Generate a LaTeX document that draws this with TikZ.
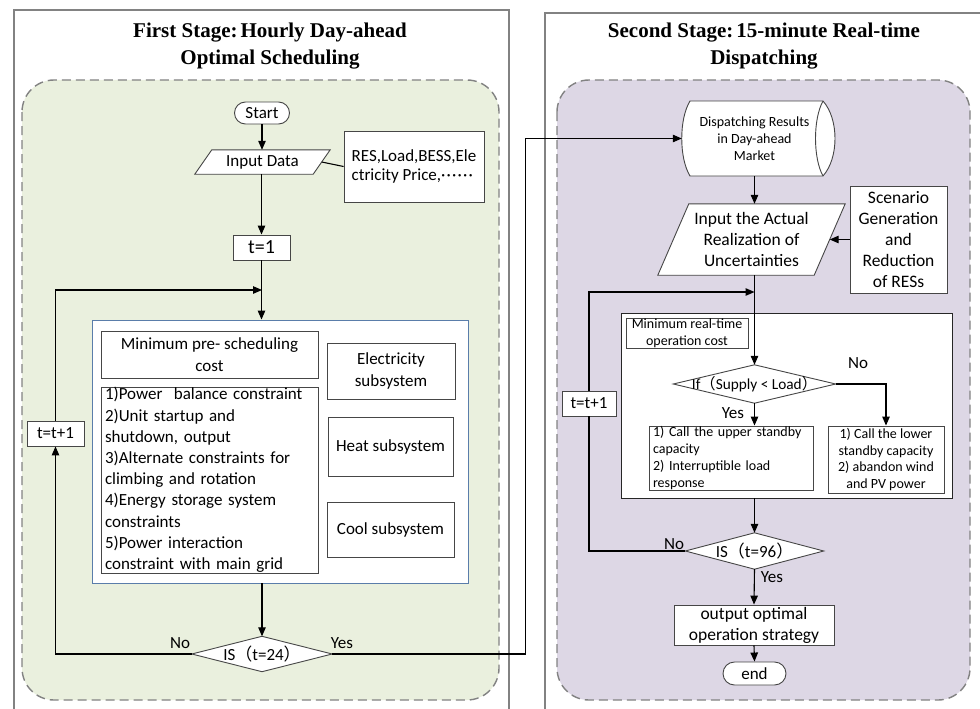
\documentclass[tikz,border=0pt]{standalone}
\usepackage{fontspec}
\setmainfont{Carlito}
\newfontfamily\titlefont{Liberation Serif}
\newfontfamily\cjk{Noto Sans CJK SC}
\usetikzlibrary{arrows.meta,calc}
\pgfdeclarelayer{bg}
\pgfdeclarelayer{boxes}
\pgfdeclarelayer{mid}
\pgfsetlayers{bg,boxes,mid,main}
\definecolor{greenbg}{RGB}{234,240,222}
\definecolor{purplebg}{RGB}{221,215,229}
\definecolor{panelgray}{RGB}{130,130,130}
\definecolor{boxgray}{RGB}{70,70,70}
\definecolor{bluebox}{RGB}{90,125,170}
\newcommand{\mydots}{·\kern1.2pt·\kern1.2pt·\kern1.2pt·\kern1.2pt·\kern1.2pt·}
\begin{document}
\begin{tikzpicture}[x=1pt,y=-1pt,
  body/.style={font=\fontsize{17}{21.5}\selectfont},
  small/.style={font=\fontsize{14}{16.7}\selectfont},
  box/.style={draw=boxgray, fill=white, line width=0.9pt, inner sep=0pt, align=center, body},
  ghost/.style={inner sep=0pt, align=center, body},
  outline/.style={draw=boxgray, fill=white, line width=0.9pt},
  arr/.style={-{Triangle[length=9pt,width=7.5pt]}, line width=1.1pt},
  conn/.style={line width=1.1pt},
  panel/.style={draw=panelgray, line width=1.2pt},
  dashbox/.style={draw=panelgray, line width=1.4pt, dash pattern=on 9pt off 5pt, rounded corners=32pt},
  lbl/.style={body, inner sep=0pt},
  title/.style={font=\titlefont\bfseries\fontsize{21}{27}\selectfont, align=center, inner sep=0pt}
]
\useasboundingbox (0,0) rectangle (980,709);

% ---------- titles ----------
\node[title] (title1) at (270,46.5) {First Stage:\hspace{3pt}Hourly Day-ahead\\Optimal Scheduling};
\node[title] (title2) at (764,46.5) {Second Stage:\hspace{3pt}15-minute Real-time\\Dispatching};

% ---------- container boxes ----------
\begin{pgfonlayer}{boxes}
\node[box, draw=bluebox, minimum width=376, minimum height=263] (big) at (280,451.5) {};
\node[box, draw=black!85, minimum width=331, minimum height=185] (inner) at (786.5,405.5) {};
\end{pgfonlayer}

% ---------- left stage ----------
\node[box, minimum width=55, minimum height=22, rounded corners=11] (start) at (262,113) {Start};
\node[ghost, minimum width=135, minimum height=24] (inp) at (262.5,162) {Input Data};
\node[box, minimum width=140, minimum height=71, align=left, font=\fontsize{17}{19.5}\selectfont] (res) at (414,166.5) {RES,Load,BESS,Ele\\ctricity Price,\mydots};
\node[box, minimum width=57, minimum height=25, font=\fontsize{20}{24}\selectfont] (t1) at (261.5,247.5) {t=1};
\coordinate (j1) at (262,290);
\node[box, minimum width=217, minimum height=47] (mincost) at (209.5,354.5) {Minimum pre- scheduling\\cost};
\node[box, minimum width=217, minimum height=186, align=left, text width=209, font=\fontsize{17}{21.2}\selectfont] (cons) at (209.5,480) {1)Power\ \ balance constraint\\2)Unit startup and\\shutdown, output\\3)Alternate constraints for\\climbing and rotation\\4)Energy storage system\\constraints\\5)Power interaction\\constraint with main grid};
\node[box, minimum width=128, minimum height=56] (elec) at (391,371) {Electricity\\subsystem};
\node[box, minimum width=125, minimum height=59] (heat) at (390.5,446.5) {Heat subsystem};
\node[box, minimum width=127, minimum height=55] (cool) at (390.5,529.5) {Cool subsystem};
\node[ghost, minimum width=140, minimum height=35] (is24) at (262,654) {IS{\cjk （}t=24{\cjk ）}};
\node[box, minimum width=57, minimum height=25] (ttp1) at (55.5,433.5) {t=t+1};
\node[lbl] (no1) at (180,643) {No};
\node[lbl] (yes1) at (342,643) {Yes};

% ---------- right stage ----------
\node[ghost, small, minimum width=145, minimum height=75] (cyl) at (754.5,138.5) {Dispatching Results\\in Day-ahead\\Market};
\node[ghost, minimum width=187, minimum height=71, font=\fontsize{17.5}{21}\selectfont] (inp2) at (751.5,239.5) {Input the Actual\\Realization of\\Uncertainties};
\node[box, minimum width=97, minimum height=107, font=\fontsize{17.5}{21}\selectfont] (scen) at (898.5,239.5) {Scenario\\Generation\\and\\Reduction\\of RESs};
\coordinate (j2) at (754.5,292);
\node[box, small, minimum width=122, minimum height=30] (mrt) at (687,333) {Minimum real-time\\operation cost};
\node[ghost, minimum width=162, minimum height=38, font=\fontsize{15.3}{18}\selectfont] (ifd) at (754.5,384) {If{\cjk （}Supply < Load{\cjk ）}};
\node[box, small, minimum width=164, minimum height=64, align=left, text width=156] (lb) at (731,458) {1) Call the upper standby\\capacity\\2) Interruptible load\\response};
\node[box, small, minimum width=116, minimum height=67] (rb) at (886,459.5) {1) Call the lower\\standby capacity\\2) abandon wind\\and PV power};
\node[lbl] (no2) at (858,363) {No};
\node[lbl] (yes2) at (733,413) {Yes};
\node[ghost, minimum width=138, minimum height=36] (is96) at (754.5,551) {IS{\cjk （}t=96{\cjk ）}};
\node[box, minimum width=54, minimum height=25] (ttp2) at (589,403.5) {t=t+1};
\node[lbl] (no3) at (674,544) {No};
\node[lbl] (yes3) at (772,577) {Yes};
\node[box, minimum width=160, minimum height=40, font=\fontsize{17.5}{21}\selectfont] (out) at (754,625) {output optimal\\operation strategy};
\node[box, minimum width=63, minimum height=23, rounded corners=11.5] (end) at (754.5,673.5) {end};

% ---------- background layer ----------
\begin{pgfonlayer}{bg}
  \draw[panel] (14,709) -- (14,10) -- (509,10) -- (509,709);
  \draw[panel] (545,709) -- (545,13) -- (980,13);
  \draw[dashbox, fill=greenbg] (22,80) rectangle (499,700);
  \draw[dashbox, fill=purplebg] (557,80) rectangle (970,700);
\end{pgfonlayer}

% ---------- shapes drawn under text ----------
\begin{pgfonlayer}{mid}
  \path[outline] ([xshift=17pt]inp.north west) -- (inp.north east) -- ([xshift=-17pt]inp.south east) -- (inp.south west) -- cycle;
  \path[outline] (inp2.north west) ++(31,0) -- (inp2.north east) -- ([xshift=-31pt]inp2.south east) -- (inp2.south west) -- cycle;
  \path[outline] (is24.west) -- (is24.north) -- (is24.east) -- (is24.south) -- cycle;
  \path[outline] (ifd.west) -- (ifd.north) -- (ifd.east) -- (ifd.south) -- cycle;
  \path[outline] (is96.west) -- (is96.north) -- (is96.east) -- (is96.south) -- cycle;
  \path[outline] (690,101) -- (823,101) .. controls (839,119) and (839,158) .. (823,176) -- (690,176) .. controls (679,158) and (679,119) .. (690,101) -- cycle;
  \draw[draw=boxgray, line width=0.9pt] (823,101) .. controls (813,119) and (813,158) .. (823,176);
\end{pgfonlayer}

% ---------- connectors left ----------
\draw[arr] (start.south) -- (start.south |- inp.north);
\draw[conn] ([xshift=-8.5pt]inp.east) -- (res.west);
\draw[arr] (inp.south -| t1.north) -- (t1.north);
\draw[arr] (t1.south) -- (t1.south |- big.north);
\draw[arr] (is24.north |- big.south) -- (is24.north);
\draw[arr] (is24.west) -| (ttp1.south);
\draw[arr] (ttp1.north) |- (j1);
\draw[arr] (is24.east) -- ++(193,0) |- (cyl.west);

% ---------- connectors right ----------
\draw[arr] (cyl.south) -- (cyl.south |- inp2.north);
\draw[arr] (scen.west) -- ([xshift=-15.5pt]inp2.east);
\draw[arr] (ifd.north |- inp2.south) -- (ifd.north);
\draw[arr] (ttp2.north) |- (j2);
\draw[conn] (is96.west) -| (ttp2.south);
\draw[arr] (ifd.east) -| (rb.north);
\draw[arr] (ifd.south) -- (ifd.south |- lb.north);
\draw[arr] (is96.north |- inner.south) -- (is96.north);
\draw[arr] (is96.south) -- (out.north);
\draw[arr] (out.south) -- (end.north);
\end{tikzpicture}
\end{document}
